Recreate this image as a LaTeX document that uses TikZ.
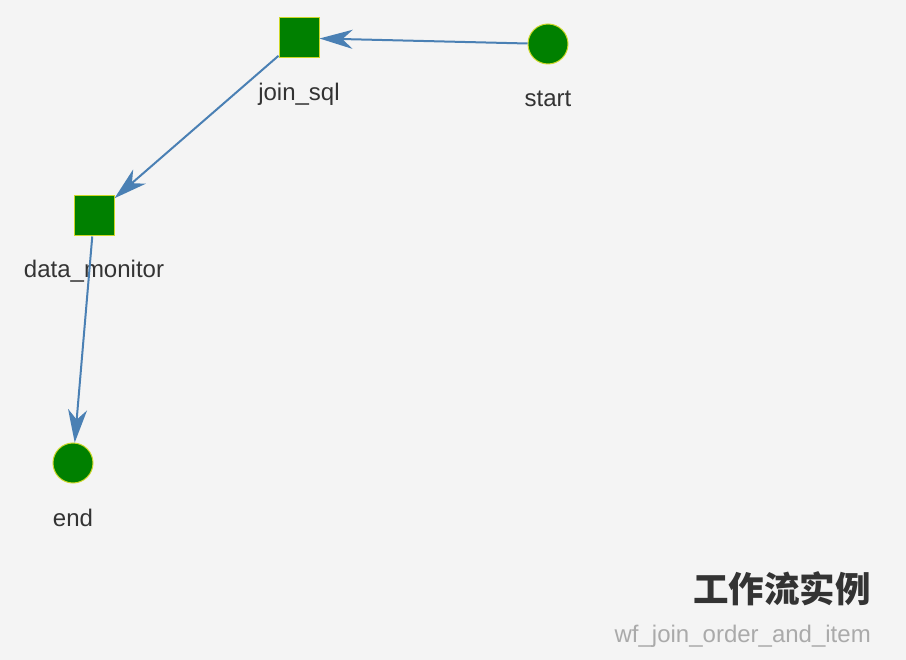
\documentclass[tikz,border=0pt]{standalone}
\usepackage{fontspec}
\setmainfont{Liberation Sans}
\newfontfamily\cjk{Noto Sans CJK SC}
\usetikzlibrary{arrows.meta}

\definecolor{fundo}{RGB}{244,244,244}
\definecolor{linha}{RGB}{74,128,180}
\definecolor{verde}{RGB}{0,128,0}
\definecolor{borda}{RGB}{205,215,40}
\definecolor{texto}{RGB}{51,51,51}
\definecolor{cinza}{RGB}{170,170,170}

\begin{document}
\begin{tikzpicture}[x=1pt, y=-1pt,
    tarefa/.style={rectangle, fill=verde, draw=borda, line width=1pt, minimum size=40pt, inner sep=0pt},
    ponto/.style={circle, fill=verde, draw=borda, line width=1pt, minimum size=40pt, inner sep=0pt},
    rotulo/.style={anchor=base, text=texto, inner sep=0pt, font=\fontsize{24}{28}\selectfont},
    seta/.style={draw=linha, line width=2pt, -{Stealth[length=33pt, width=19pt, inset=10pt]}}]
    % fundo
    \fill[fundo] (0,0) rectangle (906,660);
    \useasboundingbox (0,0) rectangle (906,660);

    % nos
    \node[tarefa] (joinsql) at (299,38) {};
    \node[ponto] (start) at (548,44) {};
    \node[tarefa] (datamonitor) at (94,216) {};
    \node[ponto] (end) at (73,463) {};

    \node[rotulo] (joinsqllbl) at (299,101) {join\_sql};
    \node[rotulo] (startlbl) at (548,107) {start};
    \node[rotulo] (datamonitorlbl) at (94,278) {data\_monitor};
    \node[rotulo] (endlbl) at (73,526) {end};

    % arestas
    \draw[seta] (start) -- (joinsql);
    \draw[seta] (joinsql) -- (datamonitor);
    \draw[seta] (datamonitor) -- (end);

    % titulo
    \node[anchor=base east, inner sep=0pt, text=texto, font=\cjk\bfseries\fontsize{35.5}{40}\selectfont] (titulo) at (871,602) {工作流实例};
    \node[anchor=base east, inner sep=0pt, text=cinza, font=\fontsize{24}{28}\selectfont] (subtitulo) at (871,642) {wf\_join\_order\_and\_item};
\end{tikzpicture}
\end{document}
